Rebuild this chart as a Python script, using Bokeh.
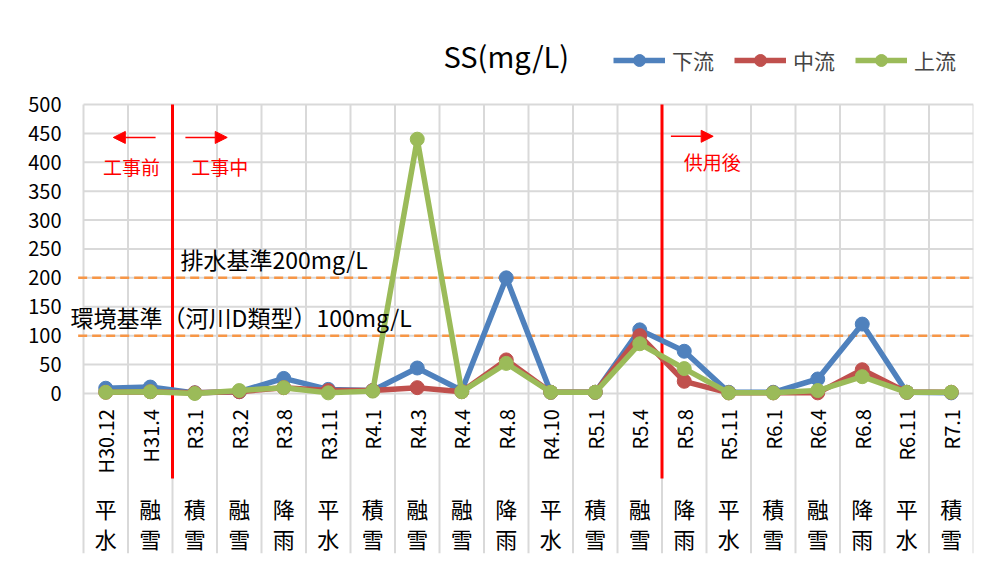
import numpy as np
from bokeh.plotting import figure
from bokeh.models import (Range1d, FixedTicker, Label, Arrow, NormalHead,
                          Legend, LegendItem, ColumnDataSource)
from bokeh.embed import file_html
from bokeh.resources import INLINE
from bokeh.core.properties import value

# ---------------- data ----------------
dates = ["H30.12", "H31.4", "R3.1", "R3.2", "R3.8", "R3.11", "R4.1", "R4.3", "R4.4", "R4.8",
         "R4.10", "R5.1", "R5.4", "R5.8", "R5.11", "R6.1", "R6.4", "R6.8", "R6.11", "R7.1"]
conditions = ["平水", "融雪", "積雪", "融雪", "降雨", "平水", "積雪", "融雪", "融雪", "降雨",
              "平水", "積雪", "融雪", "降雨", "平水", "積雪", "融雪", "降雨", "平水", "積雪"]
downstream = [9, 11, 1, 3, 26, 7, 5, 44, 5, 200, 2, 2, 110, 73, 2, 2, 25, 120, 2, 1]   # 下流
midstream = [2, 3, 1, 3, 10, 5, 5, 10, 3, 58, 2, 2, 100, 21, 1, 1, 1, 41, 2, 2]        # 中流
upstream = [2, 3, 0, 5, 10, 1, 4, 440, 3, 52, 2, 2, 86, 43, 1, 1, 5, 29, 2, 2]          # 上流
series_names = ["下流", "中流", "上流"]
series_colors = ["#4F81BD", "#C0504D", "#9BBB59"]
y_ticks = [0, 50, 100, 150, 200, 250, 300, 350, 400, 450, 500]
limit_values = [200, 100]
limit_labels = ["排水基準200mg/L", "環境基準（河川D類型）100mg/L"]
phase_boundaries = [2, 13]
phase_labels = ["工事前", "工事中", "供用後"]
title_text = "SS(mg/L)"

FONT = "Noto Sans CJK JP"
n = len(dates)
x = np.arange(n) + 0.5
y_top = y_ticks[-1]
y_bottom = -277  # bottom of the category label band

p = figure(width=985, height=563, output_backend="svg", toolbar_location=None,
           x_range=Range1d(-0.382, n), y_range=Range1d(y_bottom, 680),
           min_border_left=66, min_border_right=12, min_border_top=0, min_border_bottom=10)
p.outline_line_color = None
p.background_fill_color = "white"
p.border_fill_color = "white"

p.xaxis.visible = False
p.xgrid.visible = False
p.ygrid.visible = False
p.yaxis.ticker = FixedTicker(ticks=y_ticks)
p.yaxis.axis_line_color = None
p.yaxis.major_tick_line_color = None
p.yaxis.minor_tick_line_color = None
p.yaxis.major_tick_out = 0
p.yaxis.major_tick_in = 0
p.yaxis.major_label_text_font = FONT
p.yaxis.major_label_text_font_size = "20px"
p.yaxis.major_label_text_color = "#000000"
p.yaxis.major_label_standoff = 5

# grid: horizontal lines at the value ticks, vertical dividers between categories
bounds = list(range(n + 1))
p.segment(x0=[0] * len(y_ticks), y0=y_ticks, x1=[n] * len(y_ticks), y1=y_ticks,
          line_color="#D9D9D9", line_width=2)
p.segment(x0=bounds, y0=[y_top] * len(bounds), x1=bounds, y1=[y_bottom] * len(bounds),
          line_color="#D9D9D9", line_width=2)

# limit lines (dashed)
p.segment(x0=[-0.12] * len(limit_values), y0=limit_values, x1=[n + 1] * len(limit_values),
          y1=limit_values, line_color="#F79646", line_width=2.5, line_dash="9 5")

# phase separators
p.segment(x0=phase_boundaries, y0=[y_top] * len(phase_boundaries), x1=phase_boundaries,
          y1=[-147] * len(phase_boundaries), line_color="#FF0000", line_width=3)

# series
items = []
for vals, name, col in zip([downstream, midstream, upstream], series_names, series_colors):
    src = ColumnDataSource(dict(x=x, y=vals))
    r1 = p.line("x", "y", source=src, line_color=col, line_width=5.5)
    r2 = p.scatter("x", "y", source=src, size=14, fill_color=col, line_color=col)
    items.append(LegendItem(label=name, renderers=[r1, r2]))

# category labels
p.text(x=x, y=[-27] * n, text=dates, angle=np.pi / 2, text_align="right",
       text_baseline="middle", text_font=value(FONT), text_font_size="20px", text_color="#000000")
p.text(x=x, y=[-199] * n, text=[c[0] for c in conditions], text_align="center",
       text_baseline="middle", text_font=value(FONT), text_font_size="22px", text_color="#000000")
p.text(x=x, y=[-251] * n, text=[c[1] for c in conditions], text_align="center",
       text_baseline="middle", text_font=value(FONT), text_font_size="22px", text_color="#000000")

# limit labels
p.add_layout(Label(x=2.18, y=232, text=limit_labels[0], text_font=FONT, text_font_size="23px",
                   text_baseline="middle", text_color="#000000"))
p.add_layout(Label(x=-0.29, y=132, text=limit_labels[1], text_font=FONT, text_font_size="23px",
                   text_baseline="middle", text_color="#000000"))

# phase arrows and labels
head = dict(fill_color="#FF0000", line_color="#FF0000", size=12)
p.add_layout(Arrow(x_start=1.62, y_start=443, x_end=0.67, y_end=443, line_color="#FF0000",
                   line_width=1.5, end=NormalHead(**head)))
p.add_layout(Arrow(x_start=2.29, y_start=443, x_end=3.23, y_end=443, line_color="#FF0000",
                   line_width=1.5, end=NormalHead(**head)))
p.add_layout(Arrow(x_start=13.2, y_start=445, x_end=14.15, y_end=445, line_color="#FF0000",
                   line_width=1.5, end=NormalHead(**head)))
for lx, ly, t in zip([1.08, 3.06, 14.13], [393, 393, 401], phase_labels):
    p.add_layout(Label(x=lx, y=ly, text=t, text_font=FONT, text_font_size="19px",
                       text_align="center", text_baseline="middle", text_color="#FF0000"))

# title
p.add_layout(Label(x=9.5, y=585, text=title_text, text_font=FONT, text_font_size="29px",
                   text_align="center", text_baseline="middle", text_color="#000000"))

legend = Legend(items=items, orientation="horizontal", location=(547, 478),
                label_text_font=FONT, label_text_font_size="21px", glyph_width=52,
                glyph_height=30, label_standoff=7, spacing=20, padding=0, margin=0,
                border_line_color=None, background_fill_alpha=0)
p.add_layout(legend)

open("out.html", "w").write(file_html(p, INLINE))
